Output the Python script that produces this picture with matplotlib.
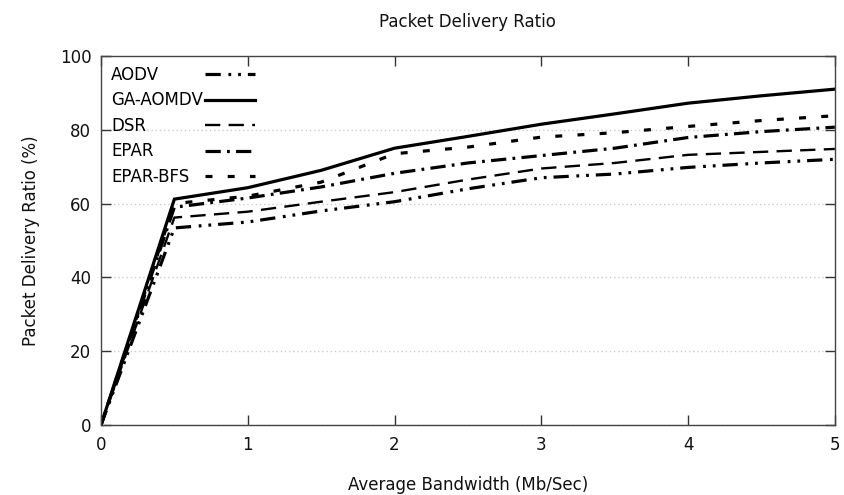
import matplotlib
matplotlib.use("Agg")
import matplotlib.pyplot as plt

plt.rcParams['font.family'] = ['DejaVu Sans']
plt.rcParams['lines.scale_dashes'] = False

bandwidth = [0, 0.5, 1, 1.5, 2, 2.5, 3, 3.5, 4, 4.5, 5]
aodv      = [0, 53.4, 55, 58, 60.5, 64, 67, 68, 69.8, 71, 72]
ga_aomdv  = [0, 61.2, 64.3, 69, 75, 78.2, 81.5, 84.3, 87.2, 89.2, 91]
dsr       = [0, 56.2, 57.8, 60.5, 63.1, 66.5, 69.5, 71, 73.2, 74, 74.8]
epar      = [0, 59, 61.5, 64.5, 68.2, 71, 73, 75, 77.9, 79.5, 80.7]
epar_bfs  = [0, 60, 62, 65.8, 73.5, 75.3, 78, 79.2, 80.9, 82.5, 83.8]

series_names = ["AODV", "GA-AOMDV", "DSR", "EPAR", "EPAR-BFS"]
series_values = [aodv, ga_aomdv, dsr, epar, epar_bfs]
styles = [
    (0, (11, 5.5, 2, 5, 2, 5)),
    '-',
    (0, (11, 6)),
    (0, (11, 4.5, 2, 4.5)),
    (0, (5, 11)),
]
widths_lw = [2.3, 2.3, 1.7, 2.3, 2.3]

xticks = [0, 1, 2, 3, 4, 5]
yticks = [0, 20, 40, 60, 80, 100]

fig = plt.figure(figsize=(8.45, 4.95), dpi=100)
ax = fig.add_axes([0.1195, 0.1414, 0.8685, 0.7456])

for name, vals, ls, lw in zip(series_names, series_values, styles, widths_lw):
    ax.plot(bandwidth, vals, color='black', lw=lw, linestyle=ls, label=name,
            dash_capstyle='butt', solid_joinstyle='miter')

ax.set_xlim(0, 5)
ax.set_ylim(0, 100)
ax.set_xticks(xticks)
ax.set_yticks(yticks)
ax.grid(axis='y', color='#cccccc', linestyle=(0, (1, 2)), linewidth=1.0)
ax.set_axisbelow(True)
ax.tick_params(direction='in', length=7, width=1, top=True, right=True,
               labelsize=12, colors='#333333', labelcolor='#111111')
ax.tick_params(axis='x', pad=8)
ax.tick_params(axis='y', pad=7)
for sp in ax.spines.values():
    sp.set_color('#444444')
    sp.set_linewidth(1.0)

ax.set_title("Packet Delivery Ratio", fontsize=12, pad=21, color='#111111')
ax.set_xlabel("Average Bandwidth (Mb/Sec)", fontsize=12, labelpad=16, color='#111111')
ax.set_ylabel("Packet Delivery Ratio (%)", fontsize=12, labelpad=14, color='#111111')

leg = ax.legend(loc='upper left', markerfirst=False, frameon=False, fontsize=12,
                handlelength=3.0, handletextpad=0.1, labelspacing=0.45,
                borderaxespad=0.4, borderpad=0.2)
fig.canvas.draw()
renderer = fig.canvas.get_renderer()
widths = [t.get_window_extent(renderer).width for t in leg.texts]
maxw = max(widths)
col = leg._legend_handle_box.get_children()[0]
for box, w in zip(col.get_children(), widths):
    box.sep = box.sep + (maxw - w) * 72.0 / fig.dpi

fig.savefig("out.png", dpi=100)
